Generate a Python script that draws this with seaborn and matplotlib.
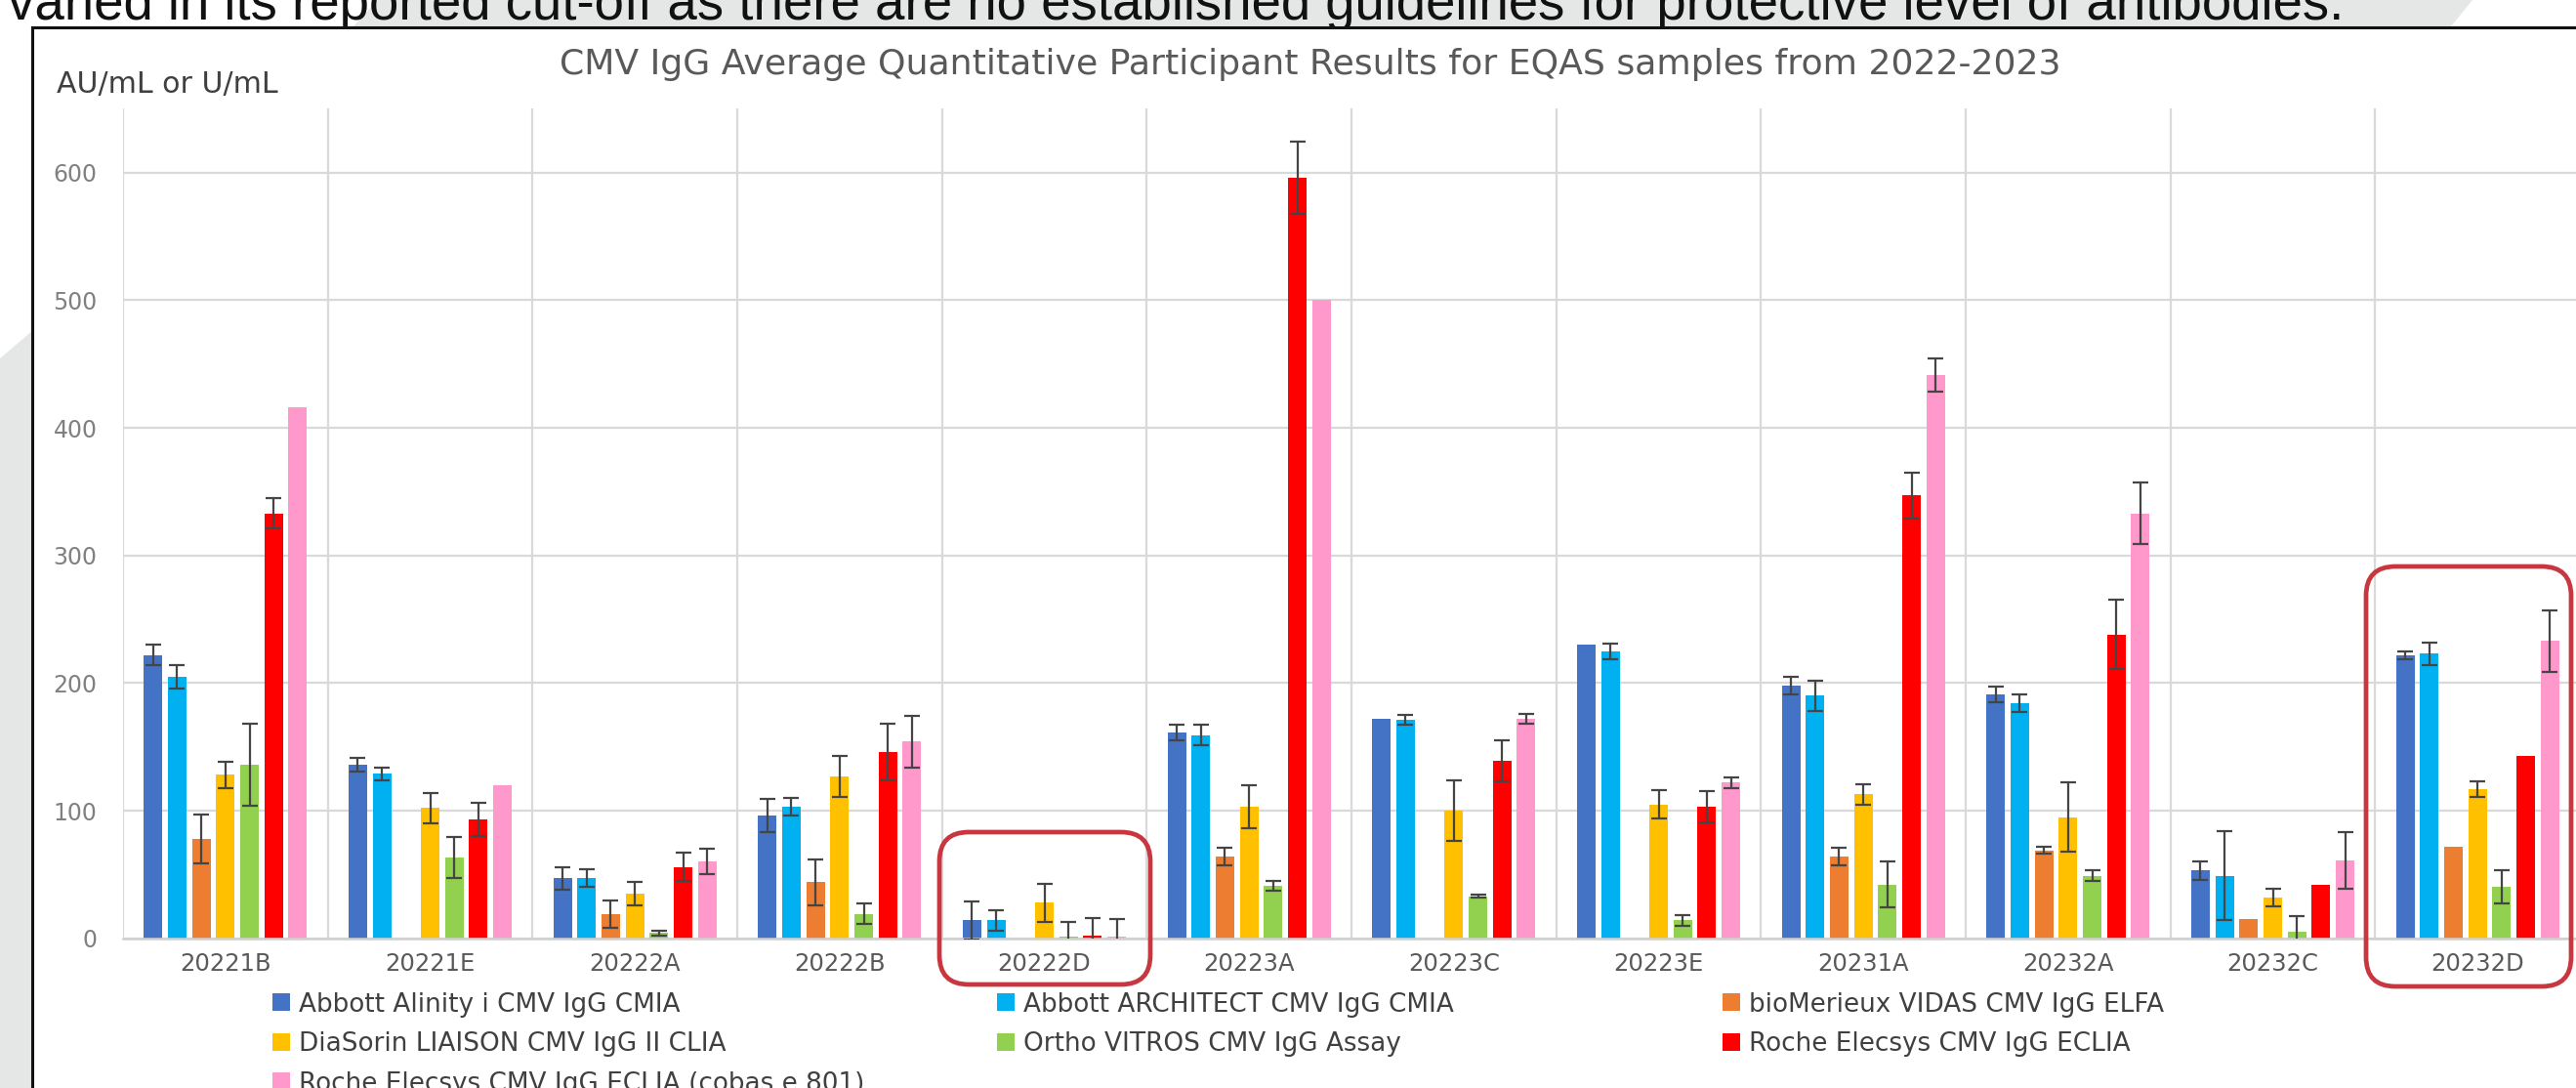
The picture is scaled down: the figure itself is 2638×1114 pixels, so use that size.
import numpy as np
import pandas as pd
import matplotlib
matplotlib.use("Agg")
import matplotlib.pyplot as plt
from matplotlib.patches import Polygon, Rectangle, FancyBboxPatch, Patch
from matplotlib.lines import Line2D
from matplotlib.transforms import Affine2D
import seaborn as sns

W, H = 2638, 1114
nan = np.nan

# ---- data -------------------------------------------------------------
samples = ["20221B", "20221E", "20222A", "20222B", "20222D", "20223A",
           "20223C", "20223E", "20231A", "20232A", "20232C", "20232D"]

assays = ["Abbott Alinity i CMV IgG CMIA",
          "Abbott ARCHITECT CMV IgG CMIA",
          "bioMerieux VIDAS CMV IgG ELFA",
          "DiaSorin LIAISON CMV IgG II CLIA",
          "Ortho VITROS CMV IgG Assay",
          "Roche Elecsys CMV IgG ECLIA",
          "Roche Elecsys CMV IgG ECLIA (cobas e 801)"]

colors = ["#4472C4", "#00B0F0", "#ED7D31", "#FFC000", "#92D050", "#FF0000", "#FF99CC"]

mean_alinity   = [222, 136, 47, 96, 14, 161, 172, 230, 198, 191, 53, 222]
mean_architect = [205, 129, 47, 103, 14, 159, 171, 225, 190, 184, 49, 223]
mean_vidas     = [78, nan, 19, 44, nan, 64, nan, nan, 64, 69, 15, 72]
mean_liaison   = [128, 102, 35, 127, 28, 103, 100, 105, 113, 95, 32, 117]
mean_vitros    = [136, 63, 4, 19, 1.5, 41, 33, 14, 42, 49, 5, 40]
mean_eclia     = [333, 93, 56, 146, 2, 596, 139, 103, 347, 238, 42, 143]
mean_e801      = [416, 120, 60, 154, 1, 500, 172, 122, 441, 333, 61, 233]

sd_alinity   = [8, 5, 9, 13, 15, 6, nan, nan, 7, 6, 7, 3]
sd_architect = [9, 5, 7, 7, 8, 8, 4, 6, 12, 7, 35, 9]
sd_vidas     = [19, nan, 11, 18, nan, 7, nan, nan, 7, 3, nan, nan]
sd_liaison   = [10, 12, 9, 16, 15, 17, 24, 11, 8, 27, 7, 6]
sd_vitros    = [32, 16, 2, 8, 11, 4, 1, 4, 18, 4, 12, 13]
sd_eclia     = [12, 13, 11, 22, 14, 28, 16, 12, 18, 27, nan, nan]
sd_e801      = [nan, nan, 10, 20, 14, nan, 4, 4, 13, 24, 22, 24]

means = [mean_alinity, mean_architect, mean_vidas, mean_liaison,
         mean_vitros, mean_eclia, mean_e801]
sds = [sd_alinity, sd_architect, sd_vidas, sd_liaison,
       sd_vitros, sd_eclia, sd_e801]

yticks = [0, 100, 200, 300, 400, 500, 600]

slide_text = ("varied in its reported cut-off as there are no established "
              "guidelines for protective level of antibodies.")
chart_title = "CMV IgG Average Quantitative Participant Results for EQAS samples from 2022-2023"
unit_label = "AU/mL or U/mL"

rows = []
for assay, m_list, s_list in zip(assays, means, sds):
    for sample, m, s in zip(samples, m_list, s_list):
        if not np.isnan(m):
            rows.append({"sample": sample, "assay": assay, "value": m, "sd": s})
df = pd.DataFrame(rows)

# ---- figure & slide background ---------------------------------------
plt.rcParams["font.family"] = ["DejaVu Sans"]
fig = plt.figure(figsize=(W / 100, H / 100), dpi=100)
fig.patch.set_facecolor("white")
# helper transform: image pixel coordinates (origin top-left)
px = Affine2D().scale(1 / W, -1 / H).translate(0, 1) + fig.transFigure

GRAY = "#e5e6e6"
fig.patches.append(Polygon([(387, 0), (2532, 0), (2510, 27), (362, 27)], closed=True,
                           transform=px, facecolor=GRAY, edgecolor="none", zorder=0.1))
fig.patches.append(Polygon([(0, 367), (34, 338), (34, H), (0, H)], closed=True,
                           transform=px, facecolor=GRAY, edgecolor="none", zorder=0.1))

renderer = fig.canvas.get_renderer()


def fit_width(t, target):
    w = t.get_window_extent(renderer).width
    t.set_fontsize(t.get_fontsize() * target / w)


st = fig.text(8, 20, slide_text, transform=px, ha="left", va="baseline",
              fontsize=30, color="#111111",
              family=["Liberation Sans Narrow", "Liberation Sans", "DejaVu Sans"], zorder=0.3)
fit_width(st, 2390)

# white chart panel with its black frame (top and left edges)
fig.patches.append(Rectangle((33, 28), W, H, transform=px, facecolor="white",
                             edgecolor="none", zorder=1))
fig.lines.append(Line2D([33, W], [28, 28], transform=px, color="#111111", lw=2.2, zorder=1.5))
fig.lines.append(Line2D([33, 33], [28, H], transform=px, color="#111111", lw=2.2, zorder=1.5))

# ---- bar chart --------------------------------------------------------
y0_px, y650_px = 960.7, 111.4
x_left, x_right = 126, 2642
ax = fig.add_axes([x_left / W, (H - y0_px) / H, (x_right - x_left) / W, (y0_px - y650_px) / H])
ax.set_zorder(2)
ax.patch.set_alpha(0)

group_width = 0.825
sns.barplot(data=df, x="sample", y="value", hue="assay", order=samples,
            hue_order=assays, palette=colors, saturation=1, width=group_width,
            gap=0.23, errorbar=None, legend=False, linewidth=0, ax=ax)

slot = group_width / len(assays)
for bar in ax.patches:
    xc = bar.get_x() + bar.get_width() / 2
    j = int(round(xc))
    k = int(round((xc - j + group_width / 2) / slot - 0.5))
    e = sds[k][j]
    if not np.isnan(e):
        ax.errorbar(xc, bar.get_height(), yerr=e, fmt="none", ecolor="#454545",
                    elinewidth=1.6, capsize=5.8, capthick=1.6, zorder=4)

ax.set_xlim(-0.5, len(samples) - 0.5)
ax.set_ylim(0, 650)
ax.set_yticks(yticks)
ax.set_xticks(np.arange(-0.5, len(samples), 1.0), minor=True)
ax.set_axisbelow(True)
ax.grid(axis="y", which="major", color="#d9d9d9", lw=1.6)
ax.grid(axis="x", which="minor", color="#d9d9d9", lw=1.6)
ax.grid(axis="x", which="major", visible=False)
ax.axhline(0, color="#d0d0d0", lw=1.8, clip_on=False, zorder=1)
for sp in ax.spines.values():
    sp.set_visible(False)
ax.tick_params(axis="both", which="both", length=0)
ax.tick_params(axis="y", labelsize=17, labelcolor="#808080", pad=19)
ax.tick_params(axis="x", labelsize=17.5, labelcolor="#595959", pad=10)
ax.set_xlabel("")
ax.set_ylabel("")

# ---- titles -----------------------------------------------------------
tt = fig.text(1342, 66, chart_title, transform=px, ha="center", va="center",
              fontsize=20, color="#595959", zorder=3)
fit_width(tt, 1540)
ul = fig.text(58, 86, unit_label, transform=px, ha="left", va="center",
              fontsize=17, color="#404040", zorder=3)
fit_width(ul, 227)

# ---- legend (three columns) -------------------------------------------
probe = fig.text(0, 0, assays[0], fontsize=16)
fit_width(probe, 390)
leg_fs = probe.get_fontsize()
probe.remove()
em = leg_fs * 100 / 72
columns = [([0, 3, 6], 279), ([1, 4], 1021), ([2, 5], 1764)]
for idx, xpos in columns:
    handles = [Patch(facecolor=colors[i], edgecolor="none") for i in idx]
    fig.legend(handles, [assays[i] for i in idx], loc="upper left",
               bbox_to_anchor=(xpos, 1030 - 0.55 * em), bbox_transform=px,
               frameon=False, borderpad=0, borderaxespad=0, fontsize=leg_fs,
               handlelength=18 / em, handleheight=18 / em, handletextpad=9 / em,
               labelspacing=(42 - 1.05 * em) / em, labelcolor="#404040")

# ---- highlight boxes --------------------------------------------------
for (bx0, by0, bx1, by1) in [(962, 852, 1178, 1008), (2423, 580, 2633, 1010)]:
    fig.patches.append(FancyBboxPatch((bx0, by0), bx1 - bx0, by1 - by0,
                                      boxstyle="round,pad=0,rounding_size=30",
                                      transform=px, fill=False, edgecolor="#C8373F",
                                      lw=3.4, zorder=6))

fig.savefig("out.png", dpi=100)
